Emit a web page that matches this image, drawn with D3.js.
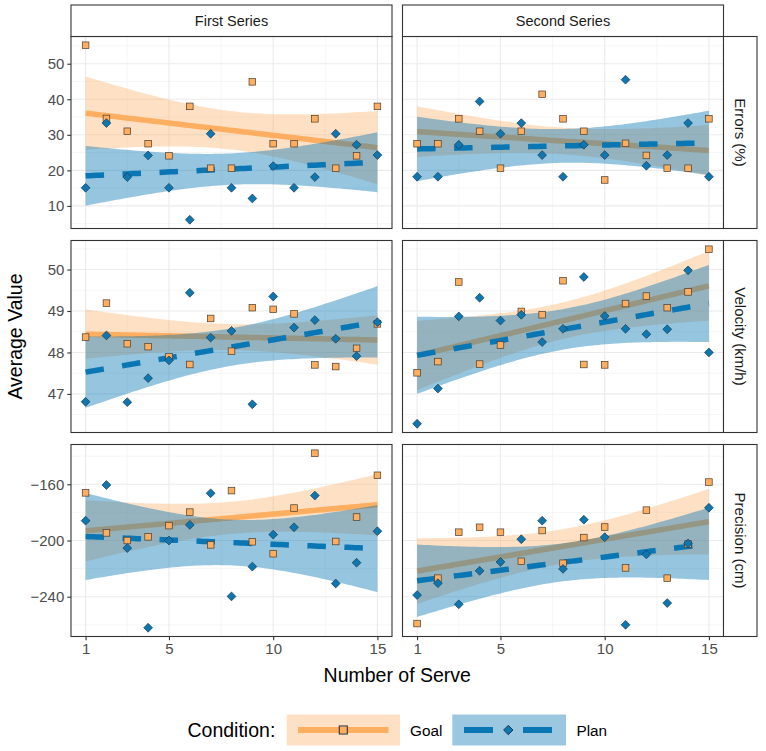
<!DOCTYPE html>
<html><head><meta charset="utf-8">
<script src="https://cdn.jsdelivr.net/npm/d3@7"></script>
<style>
body{margin:0;background:#fff}
svg{display:block;font-family:"Liberation Sans",Arial,Helvetica,sans-serif}
</style>
</head><body>
<svg id="chart" width="766" height="751"></svg>
<script>
// ---------------- data ----------------
const serves = [1,2,3,4,5,6,7,8,9,10,11,12,13,14,15];
const seriesNames = ["First Series", "Second Series"];
const measureNames = ["Errors (%)", "Velocity (km/h)", "Precision (cm)"];
const conditionNames = ["Goal", "Plan"];

const goalErrorsFirst  = [55.2,34.6,31.0,27.5,24.1,38.0,20.6,20.6,44.9,27.5,27.5,34.5,20.6,24.1,38.0];
const planErrorsFirst  = [15.1,33.3,18.1,24.2,15.1,6.1,30.3,15.1,12.1,21.2,15.1,18.1,30.3,27.2,24.3];
const goalErrorsSecond = [27.5,27.5,34.5,31.0,20.6,31.0,41.4,34.5,31.0,17.3,27.6,24.2,20.6,20.6,34.5];
const planErrorsSecond = [18.2,18.2,27.2,39.4,30.3,33.3,24.3,18.2,27.2,24.3,45.5,21.3,24.3,33.3,18.2];

const goalVelocityFirst  = [48.37,49.19,48.21,48.14,47.90,47.71,48.82,48.03,49.08,49.04,48.93,47.70,47.66,48.10,48.69];
const planVelocityFirst  = [46.81,48.41,46.80,47.38,47.81,49.44,48.36,48.52,46.75,49.35,48.60,48.78,48.33,47.91,48.73];
const goalVelocitySecond = [47.51,47.78,49.70,47.72,48.18,48.99,48.91,49.73,47.71,47.70,49.18,49.36,49.08,49.46,50.49];
const planVelocitySecond = [46.28,47.13,48.87,49.32,48.77,48.91,48.25,48.57,49.82,48.88,48.57,48.44,48.56,49.98,48.00];

const goalPrecisionFirst  = [-166.1,-194.6,-200.0,-197.4,-189.4,-179.8,-203.1,-164.5,-200.9,-209.4,-176.9,-137.9,-200.7,-183.3,-153.6];
const planPrecisionFirst  = [-185.9,-160.5,-205.4,-262.1,-200.0,-188.9,-166.4,-239.8,-218.6,-195.8,-190.6,-168.0,-230.6,-215.8,-193.4];
const goalPrecisionSecond = [-259.1,-226.8,-194.1,-190.6,-194.1,-214.8,-192.9,-216.2,-197.9,-190.4,-219.5,-178.4,-226.8,-202.5,-158.4];
const planPrecisionSecond = [-238.8,-230.4,-245.4,-221.6,-215.3,-199.1,-185.9,-220.2,-185.2,-197.6,-260.0,-209.9,-244.5,-202.1,-176.7];

const xTicks = [1,5,10,15];
const yTicksErrors = [10,20,30,40,50];
const yTicksVelocity = [47,48,49,50];
const yTicksPrecision = [-240,-200,-160];

// ---------------- structure ----------------
const rows = [
  {name: measureNames[0], ticks: yTicksErrors,
   data: [[goalErrorsFirst, planErrorsFirst], [goalErrorsSecond, planErrorsSecond]]},
  {name: measureNames[1], ticks: yTicksVelocity,
   data: [[goalVelocityFirst, planVelocityFirst], [goalVelocitySecond, planVelocitySecond]]},
  {name: measureNames[2], ticks: yTicksPrecision,
   data: [[goalPrecisionFirst, planPrecisionFirst], [goalPrecisionSecond, planPrecisionSecond]]}
];

const colX = [71, 402.5], panelW = 321;
const rowY = [36.5, 240.5, 444.5], panelH = 192;
const stripTop = 5, stripRightW = 33.5;

const goalColor = "#FDAE61", planColor = "#0A76B4";
const goalRibbon = "#FDAE61", planRibbon = "#0574B4";

// linear fit with 95% CI (as geom_smooth(method = "lm"))
function lmBand(xs, ys) {
  const n = xs.length;
  const mx = d3.mean(xs), my = d3.mean(ys);
  let sxx = 0, sxy = 0;
  xs.forEach((x, i) => { sxx += (x - mx) ** 2; sxy += (x - mx) * (ys[i] - my); });
  const b = sxy / sxx, a = my - b * mx;
  let sse = 0;
  xs.forEach((x, i) => { sse += (ys[i] - a - b * x) ** 2; });
  const s = Math.sqrt(sse / (n - 2));
  const t = 2.160369; // qt(0.975, 13)
  const grid = d3.range(80).map(i => xs[0] + (xs[n - 1] - xs[0]) * i / 79);
  return grid.map(x => {
    const fit = a + b * x;
    const se = s * Math.sqrt(1 / n + (x - mx) ** 2 / sxx);
    return {x, fit, lo: fit - t * se, hi: fit + t * se};
  });
}

const svg = d3.select("#chart");
const x = d3.scaleLinear().domain([0.3, 15.7]);

rows.forEach((row, ri) => {
  const bands = row.data.map(pair => pair.map(ys => lmBand(serves, ys)));
  // free y scale per row, 5% expansion
  const vals = [];
  row.data.forEach(pair => pair.forEach(ys => vals.push(...ys)));
  bands.forEach(pair => pair.forEach(b => b.forEach(d => vals.push(d.lo, d.hi))));
  const [mn, mxv] = d3.extent(vals);
  const pad = (mxv - mn) * 0.05;
  const y = d3.scaleLinear().domain([mn - pad, mxv + pad]).range([rowY[ri] + panelH, rowY[ri]]);
  const step = row.ticks[1] - row.ticks[0];
  const minor = d3.range(row.ticks[0] - step * 2.5, row.ticks[row.ticks.length - 1] + step * 2, step)
    .filter(v => v > y.domain()[0] && v < y.domain()[1]);

  seriesNames.forEach((sName, ci) => {
    const xs = x.copy().range([colX[ci], colX[ci] + panelW]);
    const g = svg.append("g");
    const clipId = `clip-${ri}-${ci}`;
    g.append("clipPath").attr("id", clipId).append("rect")
      .attr("x", colX[ci]).attr("y", rowY[ri]).attr("width", panelW).attr("height", panelH);

    // grid
    const xMinor = xTicks.slice(0, -1).map((v, i) => (v + xTicks[i + 1]) / 2);
    g.selectAll(".xmin").data(xMinor).join("line")
      .attr("x1", d => xs(d)).attr("x2", d => xs(d)).attr("y1", rowY[ri]).attr("y2", rowY[ri] + panelH)
      .attr("stroke", "#F0F0F0").attr("stroke-width", 0.6);
    g.selectAll(".ymin").data(minor).join("line")
      .attr("x1", colX[ci]).attr("x2", colX[ci] + panelW).attr("y1", d => y(d)).attr("y2", d => y(d))
      .attr("stroke", "#F0F0F0").attr("stroke-width", 0.6);
    g.selectAll(".xmaj").data(xTicks).join("line")
      .attr("x1", d => xs(d)).attr("x2", d => xs(d)).attr("y1", rowY[ri]).attr("y2", rowY[ri] + panelH)
      .attr("stroke", "#EBEBEB").attr("stroke-width", 1.1);
    g.selectAll(".ymaj").data(row.ticks).join("line")
      .attr("x1", colX[ci]).attr("x2", colX[ci] + panelW).attr("y1", d => y(d)).attr("y2", d => y(d))
      .attr("stroke", "#EBEBEB").attr("stroke-width", 1.1);

    const plot = g.append("g").attr("clip-path", `url(#${clipId})`);
    const area = d3.area().x(d => xs(d.x)).y0(d => y(d.lo)).y1(d => y(d.hi));
    const line = d3.line().x(d => xs(d.x)).y(d => y(d.fit));
    const [gb, pb] = bands[ci];
    plot.append("path").attr("d", area(gb)).attr("fill", goalRibbon).attr("fill-opacity", 0.37);
    plot.append("path").attr("d", line(gb)).attr("fill", "none").attr("stroke", goalColor).attr("stroke-width", 5.5);
    plot.append("path").attr("d", area(pb)).attr("fill", planRibbon).attr("fill-opacity", 0.42);
    plot.append("path").attr("d", line(pb)).attr("fill", "none").attr("stroke", planColor)
      .attr("stroke-width", 5.5).attr("stroke-dasharray", "18.5,18.5");

    const [gy, py] = row.data[ci];
    plot.selectAll(".gp").data(serves).join("rect")
      .attr("x", (d, i) => xs(d) - 3.3).attr("y", (d, i) => y(gy[i]) - 3.3)
      .attr("width", 6.6).attr("height", 6.6)
      .attr("fill", "#FDAE61").attr("stroke", "#4a3b2c").attr("stroke-width", 0.7);
    plot.selectAll(".pp").data(serves).join("path")
      .attr("d", (d, i) => {
        const cx = xs(d), cy = y(py[i]), r = 4.4;
        return `M${cx},${cy - r}L${cx + r},${cy}L${cx},${cy + r}L${cx - r},${cy}Z`;
      })
      .attr("fill", "#0F77AE").attr("stroke", "#173a55").attr("stroke-width", 0.7);

    // border
    g.append("rect").attr("x", colX[ci]).attr("y", rowY[ri]).attr("width", panelW).attr("height", panelH)
      .attr("fill", "none").attr("stroke", "#333333").attr("stroke-width", 1.1);

    // y axis on left column
    if (ci === 0) {
      const ax = svg.append("g").attr("transform", `translate(${colX[0]},0)`)
        .call(d3.axisLeft(y).tickValues(row.ticks).tickSize(3.7).tickPadding(3).tickFormat(d3.format("d")));
      ax.select(".domain").remove();
      ax.selectAll(".tick line").attr("stroke", "#333333").attr("stroke-width", 1.1);
      ax.selectAll(".tick text").attr("fill", "#4D4D4D").style("font-size", "15px")
        .style("font-family", "'Liberation Sans', Arial, sans-serif");
    }
    // x axis on bottom row
    if (ri === rows.length - 1) {
      const ax = svg.append("g").attr("transform", `translate(0,${rowY[ri] + panelH})`)
        .call(d3.axisBottom(xs).tickValues(xTicks).tickSize(3.7).tickPadding(3).tickFormat(d3.format("d")));
      ax.select(".domain").remove();
      ax.selectAll(".tick line").attr("stroke", "#333333").attr("stroke-width", 1.1);
      ax.selectAll(".tick text").attr("fill", "#4D4D4D").style("font-size", "15px")
        .style("font-family", "'Liberation Sans', Arial, sans-serif");
    }
    // top strips
    if (ri === 0) {
      svg.append("rect").attr("x", colX[ci]).attr("y", stripTop).attr("width", panelW).attr("height", rowY[0] - stripTop)
        .attr("fill", "#fff").attr("stroke", "#333333").attr("stroke-width", 1.1);
      svg.append("text").attr("x", colX[ci] + panelW / 2).attr("y", (stripTop + rowY[0]) / 2)
        .attr("text-anchor", "middle").attr("dy", "0.35em").style("font-size", "14.5px").attr("fill", "#1A1A1A")
        .text(sName);
    }
    // right strips
    if (ci === seriesNames.length - 1) {
      const sx = colX[ci] + panelW;
      svg.append("rect").attr("x", sx).attr("y", rowY[ri]).attr("width", stripRightW).attr("height", panelH)
        .attr("fill", "#fff").attr("stroke", "#333333").attr("stroke-width", 1.1);
      svg.append("text").attr("transform", `translate(${sx + stripRightW / 2},${rowY[ri] + panelH / 2}) rotate(90)`)
        .attr("text-anchor", "middle").attr("dy", "0.35em").style("font-size", "15px").attr("fill", "#1A1A1A")
        .text(row.name);
    }
  });
});

// axis titles
svg.append("text").attr("x", (colX[0] + colX[1] + panelW) / 2).attr("y", 681.5)
  .attr("text-anchor", "middle").style("font-size", "19.5px").text("Number of Serve");
svg.append("text").attr("transform", `translate(22,${(rowY[0] + rowY[2] + panelH) / 2}) rotate(-90)`)
  .attr("text-anchor", "middle").style("font-size", "19.5px").text("Average Value");

// legend
const lg = svg.append("g");
lg.append("text").attr("x", 187.5).attr("y", 737).style("font-size", "19.5px").text("Condition:");
// Goal key
lg.append("rect").attr("x", 286.7).attr("y", 714.5).attr("width", 113.3).attr("height", 31)
  .attr("fill", goalRibbon).attr("fill-opacity", 0.37);
lg.append("line").attr("x1", 298).attr("x2", 388.5).attr("y1", 730).attr("y2", 730)
  .attr("stroke", goalColor).attr("stroke-width", 6);
lg.append("rect").attr("x", 339.3).attr("y", 726).attr("width", 8).attr("height", 8)
  .attr("fill", "none").attr("stroke", "#333").attr("stroke-width", 1.1);
lg.append("text").attr("x", 410).attr("y", 736).style("font-size", "15.3px").text(conditionNames[0]);
// Plan key
lg.append("rect").attr("x", 452.3).attr("y", 714.5).attr("width", 113.7).attr("height", 31)
  .attr("fill", planRibbon).attr("fill-opacity", 0.4);
lg.append("line").attr("x1", 464).attr("x2", 552).attr("y1", 730).attr("y2", 730)
  .attr("stroke", planColor).attr("stroke-width", 6).attr("stroke-dasharray", "29,30");
lg.append("path").attr("d", "M508.3,725.3L513,730L508.3,734.7L503.6,730Z")
  .attr("fill", "#0F77AE").attr("stroke", "#173a55").attr("stroke-width", 1);
lg.append("text").attr("x", 576.5).attr("y", 736).style("font-size", "15.3px").text(conditionNames[1]);
</script>
</body></html>
